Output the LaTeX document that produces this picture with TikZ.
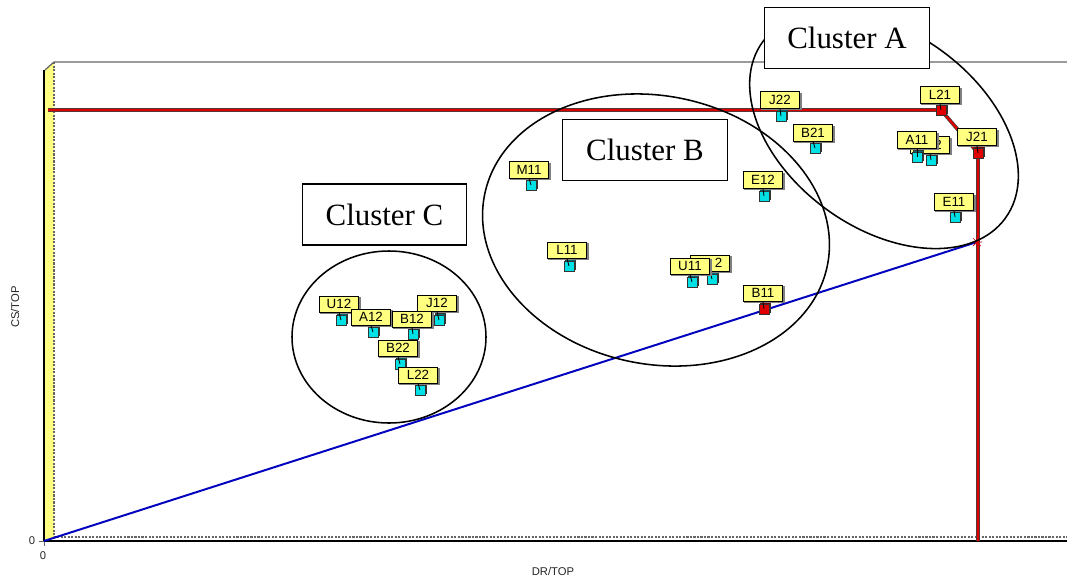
\documentclass[tikz,border=0pt]{standalone}
\usepackage{fontspec}
\usetikzlibrary{shadows,backgrounds}
\newfontfamily\tagfont{Liberation Sans}
\newfontfamily\clusterfont{Liberation Serif}
\definecolor{tagyellow}{RGB}{255,255,128}
\definecolor{wallyellow}{RGB}{255,255,130}
\definecolor{cubecyan}{RGB}{0,225,230}
\definecolor{cubeshade}{RGB}{0,105,115}
\definecolor{markred}{RGB}{225,0,0}
\definecolor{markshade}{RGB}{120,0,0}
\definecolor{lineblue}{RGB}{0,0,190}

\begin{document}
\begin{tikzpicture}[x=0.025cm, y=-0.025cm,
  tag/.style={draw=black, line width=0.6pt, fill=tagyellow, inner sep=0pt,
    minimum width=28pt, minimum height=11.5pt,
    font=\tagfont\fontsize{9.5}{10}\selectfont,
    copy shadow={shadow xshift=1.1pt, shadow yshift=-1.1pt, fill=gray, draw=gray}},
  cube/.style 2 args={draw=black!80, line width=0.5pt, fill=#1, minimum size=7pt, inner sep=0pt,
    copy shadow={shadow xshift=1.2pt, shadow yshift=1.2pt, fill=#2, draw=black!80}},
  stem/.style={draw=black, line width=0.6pt},
  ring/.style={draw=black, line width=1.1pt},
  clusterbox/.style={draw=black, line width=0.9pt, fill=white, inner sep=0pt,
    minimum width=117pt, minimum height=43.5pt,
    font=\clusterfont\fontsize{22}{26}\selectfont},
  axislab/.style={font=\tagfont\fontsize{8}{9}\selectfont, text=black!85, inner sep=0pt},
  redlink/.style={draw=black!75, line width=0.5pt, double=markred, double distance=1.6pt},
  blueline/.style={draw=lineblue, line width=1.4pt},
]
\useasboundingbox (0,0) rectangle (1067,581);

% Frame points
\coordinate (origin) at (44,541);
\coordinate (redstart) at (48,110);
\coordinate (redfoot) at (978,541);
\coordinate (tip) at (977,242);

% Data points
\foreach \id/\txt/\tx/\ty/\cx/\cy/\col/\shd in {
  U12/U12/339/304/341/320/cubecyan/cubeshade,
  J12/J12/437/303/439/320/cubecyan/cubeshade,
  A12/A12/371/317/373/332/cubecyan/cubeshade,
  B12/B12/412/319/413/334/cubecyan/cubeshade,
  B22/B22/398/348/400/364/cubecyan/cubeshade,
  L22/L22/418/375/420/390/cubecyan/cubeshade,
  M11/M11/529/170/531/185/cubecyan/cubeshade,
  L11/L11/567/250/569/266/cubecyan/cubeshade,
  hideB/{\phantom{U1}2}/710/263/712/279/cubecyan/cubeshade,
  U11/U11/690/266/692/282/cubecyan/cubeshade,
  E12/E12/763/180/764/196/cubecyan/cubeshade,
  B11/B11/763/293/764/309/markred/markshade,
  J22/J22/780/100/781/116/cubecyan/cubeshade,
  B21/B21/813/133/815/148/cubecyan/cubeshade,
  L21/L21/940/95/941/110/markred/markshade,
  hideA/{\phantom{A1}2}/930/145/931/160/cubecyan/cubeshade,
  A11/A11/917/140/917/157/cubecyan/cubeshade,
  J21/J21/977/137/978/153/markred/markshade,
  E11/E11/954/202/955/217/cubecyan/cubeshade}{
  \node[cube={\col}{\shd}] (cube\id) at (\cx,\cy) {};
  \node[tag] (tag\id) at (\tx,\ty) {\txt};
  \draw[stem] (tag\id.south) -- (cube\id.center);
}

\begin{scope}[on background layer]
% Wall and floor
\fill[wallyellow] (45,70) -- (54,62) -- (54,537) -- (45,541) -- cycle;
\draw[black!60, line width=0.9pt] (45,70) -- (54,62) -- (1067,62);
\draw[black!60, line width=0.8pt, dash pattern=on 1.5pt off 1pt] (54,62) -- (54,537) -- (1067,537);
\draw[black, line width=1.4pt] (44,70) -- (origin) -- (1067,541);
\draw[black!60, line width=0.5pt] (39,541) -- (origin) -- (44,546);
% Path through the red points
\draw[redlink] (redstart) -- (cubeL21.center) -- (cubeJ21.center) -- (redfoot);
\draw[blueline] (origin) -- (tip);
\draw[markred, line width=0.5pt] (tip) +(-5,0) -- +(5,0) (tip) +(0,-5) -- +(0,5)
  (tip) +(-4,-4) -- +(4,4) (tip) +(-4,4) -- +(4,-4);
\end{scope}

% Axis labels
\node[axislab] (yzero) at (32,541) {0};
\node[axislab] (xzero) at (43,556) {0};
\node[axislab, rotate=90] (ytitle) at (15,307) {CS/TOP};
\node[axislab] (xtitle) at (553,571) {DR/TOP};

% Clusters
\draw[ring] (389,337) ellipse [x radius=97, y radius=86];
\draw[ring, rotate around={-12:(656,230)}] (656,230) ellipse [x radius=175, y radius=134];
\draw[ring, rotate around={-36:(884,130)}] (884,130) ellipse [x radius=150, y radius=98];
\node[clusterbox] (clusterA) at (847,38) {Cluster A};
\node[clusterbox] (clusterB) at (645,150) {Cluster B};
\node[clusterbox] (clusterC) at (384.5,214.5) {Cluster C};
\end{tikzpicture}
\end{document}
